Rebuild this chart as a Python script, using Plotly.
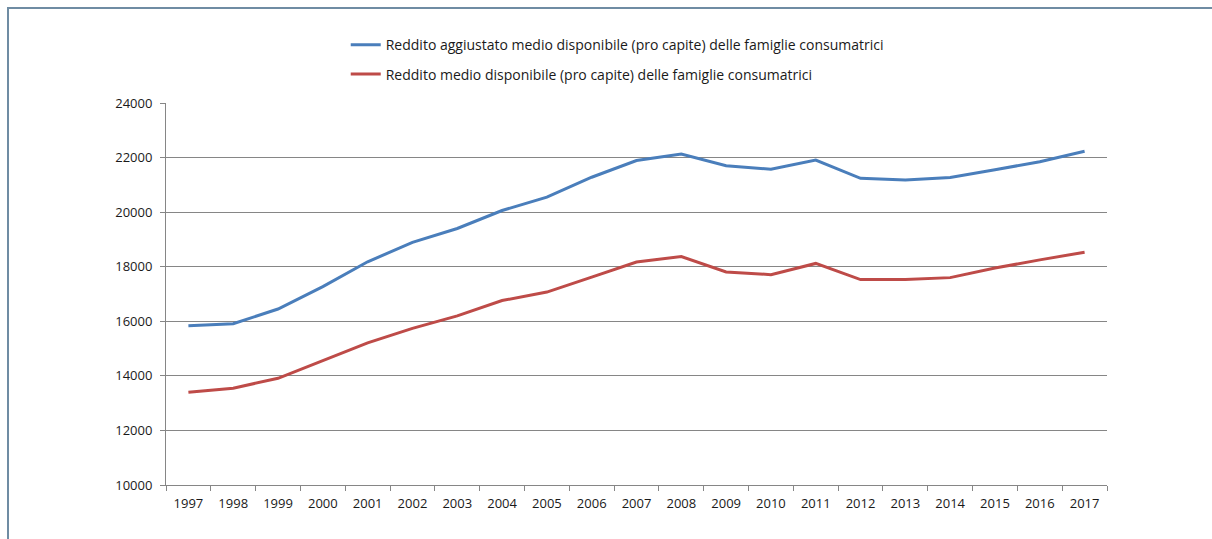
import plotly.graph_objects as go

# Years on the category axis
years = [str(y) for y in range(1997, 2018)]

# Adjusted average disposable income per capita (euro)
reddito_aggiustato = [15840, 15910, 16450, 17270, 18180, 18890, 19400, 20060, 20550, 21280,
                      21890, 22130, 21700, 21570, 21910, 21240, 21180, 21270, 21550, 21850, 22230]

# Average disposable income per capita (euro)
reddito_medio = [13400, 13550, 13910, 14570, 15210, 15740, 16200, 16760, 17070, 17620,
                 18170, 18370, 17810, 17710, 18120, 17530, 17530, 17600, 17950, 18250, 18530]

y_ticks = [10000, 12000, 14000, 16000, 18000, 20000, 22000, 24000]

series_names = [
    "Reddito aggiustato medio disponibile (pro capite) delle famiglie consumatrici",
    "Reddito medio disponibile (pro capite) delle famiglie consumatrici",
]

fig = go.Figure()
fig.add_trace(go.Scatter(x=years, y=reddito_aggiustato, mode="lines", name=series_names[0],
                         legendgroup="a", line=dict(color="#4A7EBB", width=3)))
fig.add_trace(go.Scatter(x=years, y=reddito_medio, mode="lines", name=series_names[1],
                         legendgroup="b", line=dict(color="#BE4B48", width=3)))

axis_grey = "#868686"
font_family = "Open Sans, Liberation Sans, sans-serif"

fig.update_layout(
    width=1212, height=539,
    margin=dict(l=166, r=105, t=103, b=54),
    paper_bgcolor="white", plot_bgcolor="white",
    font=dict(family=font_family, size=13, color="#1a1a1a"),
    showlegend=True,
    legend=dict(
        orientation="v", x=0.191, y=1.193, xanchor="left", yanchor="top",
        font=dict(size=14, color="#1a1a1a"), traceorder="grouped", tracegroupgap=8,
        itemwidth=30, bgcolor="rgba(0,0,0,0)",
    ),
    xaxis=dict(
        type="category", range=[-0.5, len(years) - 0.5], showgrid=False,
        showline=True, linecolor=axis_grey, linewidth=1,
        ticks="outside", tickson="boundaries", ticklen=5, tickcolor=axis_grey,
        ticklabelstandoff=6, tickfont=dict(size=13, color="#1a1a1a"),
    ),
    yaxis=dict(
        range=[10000, 24000], tickvals=y_ticks, ticktext=[str(v) for v in y_ticks],
        showgrid=True, gridcolor=axis_grey, gridwidth=1,
        showline=True, linecolor=axis_grey, linewidth=1,
        ticks="outside", ticklen=5, tickcolor=axis_grey, ticklabelstandoff=5,
        tickfont=dict(size=13, color="#1a1a1a"), zeroline=False,
    ),
    shapes=[dict(
        type="rect", xref="paper", yref="paper",
        x0=-0.1679, x1=1.12, y0=-0.2, y1=1.2487,
        line=dict(color="#6F8CA3", width=2), fillcolor="rgba(0,0,0,0)", layer="below",
    )],
)

fig.write_html("out.html")
